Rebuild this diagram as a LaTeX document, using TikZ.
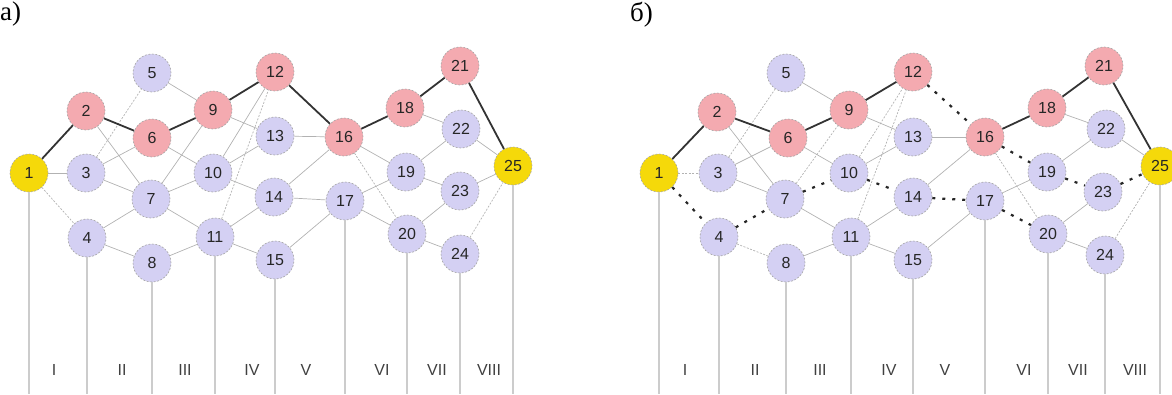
\documentclass[tikz,border=0pt]{standalone}
\usepackage{fontspec}
\setmainfont{Liberation Serif}
\setsansfont{Liberation Sans}
\definecolor{pinkc}{HTML}{F4AAB0}
\definecolor{lavc}{HTML}{D4D0F3}
\definecolor{yelc}{HTML}{F5D90A}
\begin{document}
\begin{tikzpicture}[x=1pt,y=-1pt,
 ev/.style={circle,draw=gray!70,dash pattern=on 2pt off 1.5pt,line width=0.6pt,minimum size=38pt,inner sep=0pt,font=\sffamily\fontsize{16}{16}\selectfont,text=black!85},
 edg/.style={draw=gray!60,line width=0.7pt},
 edgd/.style={draw=gray!60,line width=0.7pt,dash pattern=on 2pt off 1.5pt},
 crit/.style={draw=black!80,line width=1.8pt},
 dotp/.style={draw=black!85,line width=2.2pt,dash pattern=on 3pt off 7pt},
 vline/.style={draw=gray!40,line width=1.1pt},
 stage/.style={font=\sffamily\fontsize{16}{16}\selectfont,text=black!75},
 ttl/.style={font=\fontsize{27}{27}\selectfont,anchor=north west,inner sep=0pt}
]
\useasboundingbox (0,0) rectangle (1172,394);
\coordinate (bot) at (0,394);
\node[ttl] (ta) at (0,2) {а)};
\node[ttl] (tb) at (630,2) {б)};
% panel a nodes
\foreach \n/\x/\y/\c in {1/29/173/yelc,2/86/111/pinkc,3/86/173/lavc,4/87/238/lavc,5/152/73/lavc,6/152/138/pinkc,7/151/199/lavc,8/152/263/lavc,9/213/110/pinkc,10/213/173/lavc,11/215/237/lavc,12/275/72/pinkc,13/275/136/lavc,14/274/197/lavc,15/275/260/lavc,16/344/137/pinkc,17/345/201/lavc,18/405/108/pinkc,19/406/172/lavc,20/407/234/lavc,21/460/66/pinkc,22/461/129/lavc,23/460/191/lavc,24/460/254/lavc,25/513/166/yelc}
  \node[ev,fill=\c] (a\n) at (\x,\y) {\n};
% panel b nodes
\foreach \n/\x/\y/\c in {1/659/173/yelc,2/717/112/pinkc,3/718/173/lavc,4/719/237/lavc,5/786/73/lavc,6/788/138/pinkc,7/785/199/lavc,8/786/263/lavc,9/849/110/pinkc,10/849/173/lavc,11/851/237/lavc,12/913/72/pinkc,13/913/137/lavc,14/913/197/lavc,15/913/260/lavc,16/985/137/pinkc,17/985/201/lavc,18/1047/108/pinkc,19/1047/172/lavc,20/1048/234/lavc,21/1104/66/pinkc,22/1106/129/lavc,23/1103/192/lavc,24/1105/255/lavc,25/1160/166/yelc}
  \node[ev,fill=\c] (b\n) at (\x,\y) {\n};
% vertical lines
\foreach \p in {a,b}
  \foreach \n in {1,4,8,11,15,17,20,24,25}
    \draw[vline] (\p\n.south) -- (\p\n.south |- bot);
% stage labels
\foreach \t/\x in {I/54,II/122,III/185,IV/252,V/306,VI/382,VII/437,VIII/489}
  \node[stage] (la\t) at (\x,370) {\t};
\foreach \t/\x in {I/685,II/755,III/820,IV/889,V/945,VI/1024,VII/1078,VIII/1135}
  \node[stage] (lb\t) at (\x,370) {\t};
% panel a edges
\foreach \u/\v in {1/3,2/7,3/6,3/7,4/7,4/8,5/9,6/10,7/9,7/10,7/11,8/11,9/13,10/12,10/13,10/14,11/14,11/15,13/16,14/16,14/17,15/17,16/19,17/19,17/20,18/22,19/22,19/23,20/23,20/24,22/25,23/25}
  \draw[edg] (a\u) -- (a\v);
\foreach \u/\v in {1/4,3/5,11/12,16/20,24/25}
  \draw[edgd] (a\u) -- (a\v);
\foreach \u/\v in {1/2,2/6,6/9,9/12,12/16,16/18,18/21,21/25}
  \draw[crit] (a\u) -- (a\v);
% panel b edges
\foreach \u/\v in {2/7,3/6,3/7,5/9,6/10,7/11,8/11,9/13,10/13,11/14,11/15,13/16,14/16,15/17,17/19,18/22,19/22,20/23,20/24,22/25}
  \draw[edg] (b\u) -- (b\v);
\foreach \u/\v in {1/3,3/5,4/8,7/9,10/12,11/12,16/20,24/25}
  \draw[edgd] (b\u) -- (b\v);
\foreach \u/\v in {1/2,2/6,6/9,9/12,16/18,18/21,21/25}
  \draw[crit] (b\u) -- (b\v);
\foreach \u/\v in {1/4,4/7,7/10,10/14,14/17,17/20,12/16,16/19,19/23,23/25}
  \draw[dotp] (b\u) -- (b\v);
\end{tikzpicture}
\end{document}
